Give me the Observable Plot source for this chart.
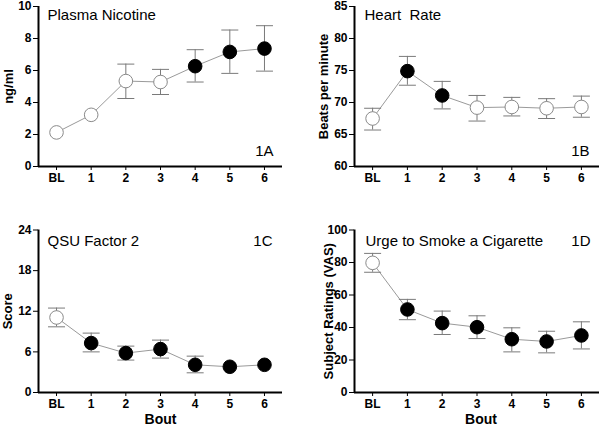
<!DOCTYPE html>
<html><head><meta charset="utf-8">
<script src="https://cdn.jsdelivr.net/npm/d3@7"></script>
<script src="https://cdn.jsdelivr.net/npm/@observablehq/plot@0.6"></script>
<style>
body{margin:0;background:#fff}
#wrap{position:relative;width:600px;height:427px;overflow:hidden;background:#fff}
.panel{position:absolute}
.panel svg{overflow:visible}
</style></head><body><div id="wrap"></div>
<script>
// Categories
const bouts = ["BL", "1", "2", "3", "4", "5", "6"];

// 1A Plasma Nicotine (ng/ml)
const nicotineMean = [2.13, 3.23, 5.34, 5.28, 6.27, 7.16, 7.37];
const nicotineLo   = [null, null, 4.25, 4.5, 5.28, 5.82, 5.96];
const nicotineHi   = [null, null, 6.4, 6.07, 7.3, 8.53, 8.8];
const nicotineFilled = [0, 0, 0, 0, 1, 1, 1];

// 1B Heart Rate (beats per minute)
const heartMean = [67.5, 74.9, 71.1, 69.2, 69.3, 69.1, 69.3];
const heartLo   = [65.7, 72.7, 69.0, 67.1, 67.9, 67.5, 67.7];
const heartHi   = [69.1, 77.2, 73.3, 71.1, 70.8, 70.6, 71.0];
const heartFilled = [0, 1, 1, 0, 0, 0, 0];

// 1C QSU Factor 2 (score)
const qsuMean = [11.08, 7.3, 5.82, 6.41, 4.09, 3.8, 4.09];
const qsuLo   = [9.7, 6.0, 4.79, 5.08, 2.91, null, null];
const qsuHi   = [12.47, 8.77, 6.85, 7.74, 5.37, null, null];
const qsuFilled = [0, 1, 1, 1, 1, 1, 1];

// 1D Urge to Smoke a Cigarette (VAS)
const urgeMean = [79.8, 51.1, 42.7, 40.2, 32.8, 31.4, 35.1];
const urgeLo   = [74.0, 44.8, 35.7, 33.2, 25.0, 24.4, 26.8];
const urgeHi   = [85.6, 57.3, 50.1, 47.2, 39.8, 37.7, 43.5];
const urgeFilled = [0, 1, 1, 1, 1, 1, 1];

// Axis ticks
const nicotineTicks = [0, 2, 4, 6, 8, 10];
const heartTicks = [60, 65, 70, 75, 80, 85];
const qsuTicks = [0, 6, 12, 18, 24];
const urgeTicks = [0, 20, 40, 60, 80, 100];

const FONT = '"Liberation Sans", Arial, Helvetica, sans-serif';
const capSymbol = {
  draw(context, size) {
    const r = Math.sqrt(size / Math.PI);
    context.moveTo(-r, 0);
    context.lineTo(r, 0);
  }
};

function panel(cfg) {
  const rows = bouts.map((b, i) => ({i, b, m: cfg.mean[i], lo: cfg.lo[i], hi: cfg.hi[i], f: cfg.filled[i]}));
  const err = rows.filter(d => d.lo != null);
  const xDom = [-0.52, 6.52];
  const yDom = [cfg.ticks[0], cfg.ticks[cfg.ticks.length - 1]];
  const marks = [
    Plot.line(rows, {x: "i", y: "m", stroke: "#9a9a9a", strokeWidth: 1}),
    Plot.ruleX(err, {x: "i", y1: "lo", y2: "hi", stroke: "#7a7a7a", strokeWidth: 1}),
    Plot.dot(err, {x: "i", y: "lo", symbol: capSymbol, r: 8.5, stroke: "#7a7a7a", strokeWidth: 1, fill: "none"}),
    Plot.dot(err, {x: "i", y: "hi", symbol: capSymbol, r: 8.5, stroke: "#7a7a7a", strokeWidth: 1, fill: "none"}),
    Plot.dot(rows.filter(d => !d.f), {x: "i", y: "m", r: 6.8, fill: "#fff", stroke: "#8a8a8a", strokeWidth: 1}),
    Plot.dot(rows.filter(d => d.f), {x: "i", y: "m", r: 6.8, fill: "#000", stroke: "#000", strokeWidth: 1}),
    Plot.ruleY([yDom[0]], {stroke: "#000", strokeWidth: 2}),
    Plot.ruleX([xDom[0]], {y1: yDom[0], y2: yDom[1], stroke: "#000", strokeWidth: 2}),
    Plot.text([cfg.title], {frameAnchor: "top-left", dx: cfg.titleDx, dy: cfg.titleDy, fontSize: 15, fontWeight: "normal", lineAnchor: "middle"}),
    Plot.text([cfg.tag], {frameAnchor: cfg.tagAnchor, dx: cfg.tagDx, dy: cfg.tagDy, fontSize: 15, fontWeight: "normal", lineAnchor: "middle", textAnchor: "end"}),
    Plot.text([cfg.ylabel], {frameAnchor: "left", rotate: -90, dx: cfg.ylabelDx, textAnchor: "middle", lineAnchor: "middle", fontSize: 13, fontWeight: "bold"})
  ];
  if (cfg.xlabel) {
    marks.push(Plot.text([cfg.xlabel], {frameAnchor: "bottom", dx: cfg.xlabelDx, dy: 27.5, lineAnchor: "middle", fontSize: 14, fontWeight: "bold"}));
  }
  const svg = Plot.plot({
    width: cfg.width,
    height: cfg.height,
    marginLeft: cfg.ml, marginRight: cfg.mr, marginTop: cfg.mt, marginBottom: cfg.mb,
    style: {fontFamily: FONT, fontSize: "12px", fontWeight: "bold", color: "#000", background: "transparent"},
    x: {type: "linear", domain: xDom, ticks: bouts.map((_, i) => i), tickFormat: i => bouts[i], tickSize: 4, tickPadding: 3, label: null},
    y: {domain: yDom, ticks: cfg.ticks, tickSize: 5, tickPadding: 2, label: null},
    marks
  });
  const div = document.createElement("div");
  div.className = "panel";
  div.style.left = cfg.left + "px";
  div.style.top = cfg.top + "px";
  div.appendChild(svg);
  document.getElementById("wrap").appendChild(div);
}

panel({left: 0, top: 0, width: 300, height: 210, ml: 38, mr: 18, mt: 6, mb: 44,
  mean: nicotineMean, lo: nicotineLo, hi: nicotineHi, filled: nicotineFilled, ticks: nicotineTicks,
  title: "Plasma Nicotine", titleDx: 9, titleDy: 9, tag: "1A", tagAnchor: "bottom-right", tagDx: -9, tagDy: -15,
  ylabel: "ng/ml", ylabelDx: -30});

panel({left: 300, top: 0, width: 300, height: 210, ml: 54, mr: 1, mt: 6, mb: 44,
  mean: heartMean, lo: heartLo, hi: heartHi, filled: heartFilled, ticks: heartTicks,
  title: "Heart  Rate", titleDx: 10, titleDy: 9, tag: "1B", tagAnchor: "bottom-right", tagDx: -10, tagDy: -15,
  ylabel: "Beats per minute", ylabelDx: -31});

panel({left: 0, top: 210, width: 300, height: 217, ml: 38, mr: 18, mt: 19.5, mb: 35,
  mean: qsuMean, lo: qsuLo, hi: qsuHi, filled: qsuFilled, ticks: qsuTicks,
  title: "QSU Factor 2", titleDx: 9, titleDy: 11, tag: "1C", tagAnchor: "top-right", tagDx: -10, tagDy: 11,
  ylabel: "Score", ylabelDx: -31, xlabel: "Bout", xlabelDx: 0});

panel({left: 300, top: 210, width: 300, height: 217, ml: 54, mr: 1, mt: 19.5, mb: 35,
  mean: urgeMean, lo: urgeLo, hi: urgeHi, filled: urgeFilled, ticks: urgeTicks,
  title: "Urge to Smoke a Cigarette", titleDx: 11, titleDy: 11, tag: "1D", tagAnchor: "top-right", tagDx: -9, tagDy: 11,
  ylabel: "Subject Ratings (VAS)", ylabelDx: -26, xlabel: "Bout", xlabelDx: 4});
</script>
</body></html>
